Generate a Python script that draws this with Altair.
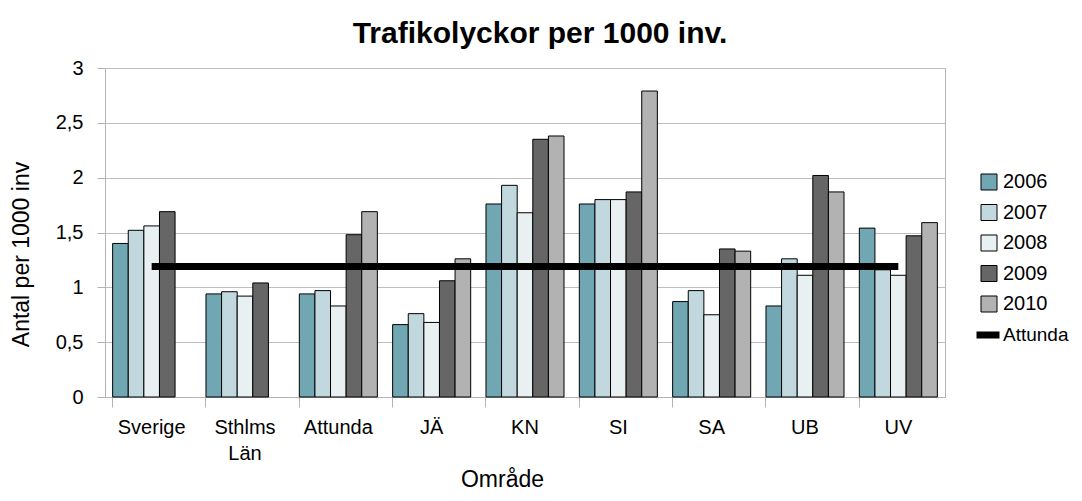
import altair as alt
import pandas as pd

areas = ["Sverige", "Sthlms Län", "Attunda", "JÄ", "KN", "SI", "SA", "UB", "UV"]
years = ["2006", "2007", "2008", "2009", "2010"]

v2006 = [1.40, 0.94, 0.94, 0.66, 1.76, 1.76, 0.87, 0.83, 1.54]
v2007 = [1.52, 0.96, 0.97, 0.76, 1.93, 1.80, 0.97, 1.26, 1.16]
v2008 = [1.56, 0.92, 0.83, 0.68, 1.68, 1.80, 0.75, 1.11, 1.11]
v2009 = [1.69, 1.04, 1.48, 1.06, 2.35, 1.87, 1.35, 2.02, 1.47]
v2010 = [None, None, 1.69, 1.26, 2.38, 2.79, 1.33, 1.87, 1.59]
attunda = [1.19, 1.19, 1.19, 1.19, 1.19, 1.19, 1.19, 1.19, 1.19]

colors = ["#71A7B2", "#C0D8DE", "#E8F0F2", "#666666", "#B2B2B2"]

rows = []
for yr, vals in zip(years, [v2006, v2007, v2008, v2009, v2010]):
    for a, v in zip(areas, vals):
        if v is not None:
            rows.append({"Område": a, "År": yr, "Värde": v})
bars_df = pd.DataFrame(rows)
line_df = pd.DataFrame({"Område": areas, "Värde": attunda, "Serie": ["Attunda"] * len(areas)})

FONT = "Liberation Sans"

x_enc = alt.X(
    "Område:N",
    sort=areas,
    scale=alt.Scale(domain=areas, paddingInner=0.164, paddingOuter=0.082),
    axis=alt.Axis(
        title="Område",
        labelAngle=0,
        bandPosition=0,
        tickSize=10,
        labelPadding=10,
        labelFontSize=20,
        labelLineHeight=26,
        labelExpr="datum.label == 'Sthlms Län' ? ['Sthlms', 'Län'] : datum.label",
        titleFontSize=23,
        titleFontWeight="normal",
        titleX=397,
        titleY=89,
        titleBaseline="alphabetic",
        grid=False,
    ),
)

y_enc = alt.Y(
    "Värde:Q",
    scale=alt.Scale(domain=[0, 3], nice=False),
    axis=alt.Axis(
        title="Antal per 1000 inv",
        values=[0, 0.5, 1, 1.5, 2, 2.5, 3],
        labelExpr="replace(format(datum.value, '.1~f'), '.', ',')",
        tickSize=8,
        labelPadding=14,
        labelFontSize=20,
        titleFontSize=23,
        titleFontWeight="normal",
        titleAngle=270,
        titleX=-84,
        titleY=186,
        titleAlign="center",
        titleBaseline="middle",
    ),
)

bars = alt.Chart(bars_df).mark_bar(stroke="black", strokeWidth=1).encode(
    x=x_enc,
    y=y_enc,
    xOffset=alt.XOffset("År:N", scale=alt.Scale(domain=years, paddingInner=0, paddingOuter=0)),
    color=alt.Color(
        "År:N",
        scale=alt.Scale(domain=years, range=colors),
        legend=alt.Legend(
            title=None,
            orient="none",
            legendX=874,
            legendY=104,
            symbolType="square",
            symbolSize=256,
            symbolStrokeColor="black",
            symbolStrokeWidth=1,
            labelFontSize=20,
            rowPadding=10.5,
            labelOffset=4,
        ),
    ),
)

line = alt.Chart(line_df).mark_line(strokeWidth=7).encode(
    x=alt.X("Område:N", sort=areas),
    y=alt.Y("Värde:Q"),
    stroke=alt.Stroke(
        "Serie:N",
        scale=alt.Scale(domain=["Attunda"], range=["black"]),
        legend=alt.Legend(
            title=None,
            orient="none",
            legendX=868,
            legendY=252,
            symbolType="stroke",
            symbolSize=529,
            symbolStrokeWidth=7,
            labelFontSize=19,
            labelOffset=0,
        ),
    ),
)

chart = (
    alt.layer(bars, line)
    .properties(
        width=840,
        height=329,
        autosize=alt.AutoSizeParams(type="none"),
        padding={"left": 97, "top": 60, "right": 129, "bottom": 96},
        title=alt.TitleParams(
            "Trafikolyckor per 1000 inv.",
            fontSize=30,
            fontWeight="bold",
            anchor="middle",
            dx=15,
            offset=9,
            font=FONT,
            color="black",
        ),
    )
    .configure(font=FONT)
    .configure_view(stroke="#B3B3B3", strokeWidth=1)
    .configure_axis(
        domainColor="#B3B3B3",
        tickColor="#B3B3B3",
        gridColor="#BEBEBE",
        labelColor="black",
        titleColor="black",
        labelFont=FONT,
        titleFont=FONT,
    )
    .configure_legend(labelFont=FONT, labelColor="black")
)

chart.save("out.html", embed_options={"renderer": "svg", "actions": False})
